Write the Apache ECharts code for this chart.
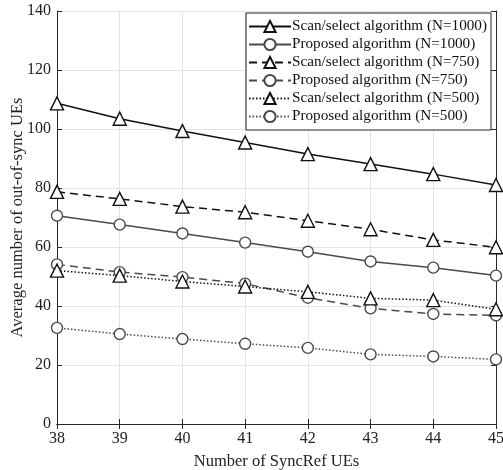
<!DOCTYPE html>
<html lang="en">
<head>
	<meta charset="UTF-8">
	<title>Out-of-sync UEs</title>
	<script src="https://cdn.jsdelivr.net/npm/echarts@6/dist/echarts.min.js"></script>
	<style>
		html, body { margin: 0; padding: 0; background: #fff; }
		#chart { width: 503px; height: 470px; }
	</style>
</head>
<body>
	<div id="chart"></div>
	<script>
		// x categories (number of SyncRef UEs)
		var syncRef = [38, 39, 40, 41, 42, 43, 44, 45];
		var yTicks = [0, 20, 40, 60, 80, 100, 120, 140];

		// values
		var scan1000 = [108.7, 103.5, 99.3, 95.4, 91.5, 88.1, 84.7, 81.0];
		var prop1000 = [70.6, 67.6, 64.6, 61.5, 58.4, 55.1, 53.0, 50.3];
		var scan750 = [78.7, 76.3, 73.7, 71.8, 68.9, 66.0, 62.4, 59.9];
		var prop750 = [54.1, 51.5, 49.8, 47.6, 42.8, 39.2, 37.3, 36.8];
		var scan500 = [52.0, 50.3, 48.3, 46.6, 44.8, 42.6, 42.0, 38.9];
		var prop500 = [32.6, 30.5, 28.8, 27.2, 25.8, 23.6, 22.9, 21.9];

		var font = 'Liberation Serif';
		var black = '#111';
		var gray = '#4a4a4a';

		function pairs(vals) {
			return syncRef.map(function (x, i) { return [x, vals[i]]; });
		}

		function mk(name, vals, color, type, symbol) {
			return {
				name: name,
				type: 'line',
				data: pairs(vals),
				symbol: symbol,
				symbolSize: symbol === 'triangle' ? 13 : 11,
				showSymbol: true,
				animation: false,
				lineStyle: { color: color, width: 1.5, type: type },
				itemStyle: { color: '#fff', borderColor: color, borderWidth: 1.4 },
				emphasis: { disabled: true },
				z: 3
			};
		}

		var option = {
			backgroundColor: '#fff',
			animation: false,
			textStyle: { fontFamily: font },
			grid: { left: 57, right: 7, top: 11, bottom: 46, show: false, containLabel: false, outerBoundsMode: 'none' },
			legend: {
				orient: 'vertical',
				right: 12,
				top: 13,
				itemWidth: 42,
				itemHeight: 14,
				itemGap: 1,
				padding: [5, 4, 5, 2],
				backgroundColor: '#fff',
				borderColor: '#222',
				borderWidth: 1,
				textStyle: { fontFamily: font, fontSize: 15.2, lineHeight: 17, color: '#111', padding: [0, 0, 0, -4] },
				data: [
					'Scan/select algorithm (N=1000)',
					'Proposed algorithm (N=1000)',
					'Scan/select algorithm (N=750)',
					'Proposed algorithm (N=750)',
					'Scan/select algorithm (N=500)',
					'Proposed algorithm (N=500)'
				]
			},
			xAxis: [{
				type: 'value',
				min: 38, max: 45, interval: 1,
				name: 'Number of SyncRef UEs',
				nameLocation: 'middle',
				nameGap: 29,
				nameMoveOverlap: false,
				nameTextStyle: { fontFamily: font, fontSize: 16.5, color: '#222' },
				axisLine: { lineStyle: { color: '#262626', width: 1 } },
				axisTick: { inside: true, length: 5, lineStyle: { color: '#262626' } },
				axisLabel: { fontFamily: font, fontSize: 16, color: '#222', margin: 7 },
				splitLine: { show: true, lineStyle: { color: '#e3e3e3', width: 1 } }
			}, {
				type: 'value',
				position: 'top',
				min: 38, max: 45, interval: 1,
				axisLine: { lineStyle: { color: '#262626', width: 1 } },
				axisTick: { inside: true, length: 5, lineStyle: { color: '#262626' } },
				axisLabel: { show: false },
				splitLine: { show: false }
			}],
			yAxis: [{
				type: 'value',
				min: 0, max: 140, interval: 20,
				name: 'Average number of out-of-sync UEs',
				nameLocation: 'middle',
				nameGap: 31,
				nameMoveOverlap: false,
				nameTextStyle: { fontFamily: font, fontSize: 16.5, color: '#222' },
				axisLine: { show: true, lineStyle: { color: '#262626', width: 1 } },
				axisTick: { show: true, inside: true, length: 5, lineStyle: { color: '#262626' } },
				axisLabel: {
					fontFamily: font, fontSize: 16, color: '#222', margin: 6,
					formatter: function (v) { return yTicks.indexOf(v) >= 0 ? String(v) : ''; }
				},
				splitLine: { show: true, lineStyle: { color: '#e3e3e3', width: 1 } }
			}, {
				type: 'value',
				position: 'right',
				min: 0, max: 140, interval: 20,
				axisLine: { show: true, lineStyle: { color: '#262626', width: 1 } },
				axisTick: { show: true, inside: true, length: 5, lineStyle: { color: '#262626' } },
				axisLabel: { show: false },
				splitLine: { show: false }
			}],
			series: [
				mk('Scan/select algorithm (N=1000)', scan1000, black, 'solid', 'triangle'),
				mk('Proposed algorithm (N=1000)', prop1000, gray, 'solid', 'circle'),
				mk('Scan/select algorithm (N=750)', scan750, black, [8, 5], 'triangle'),
				mk('Proposed algorithm (N=750)', prop750, gray, [8, 5], 'circle'),
				mk('Scan/select algorithm (N=500)', scan500, black, [1.5, 2], 'triangle'),
				mk('Proposed algorithm (N=500)', prop500, gray, [1.5, 2], 'circle')
			]
		};

		var myChart = echarts.init(document.getElementById('chart'));
		myChart.setOption(option);
	</script>
</body>
</html>
